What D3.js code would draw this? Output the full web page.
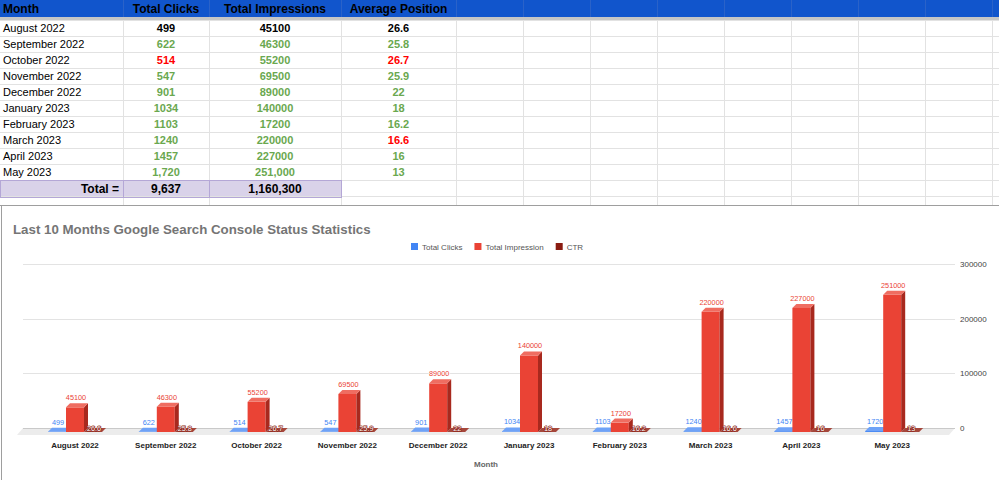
<!DOCTYPE html>
<html>
<head>
<meta charset="utf-8">
<script src="https://cdn.jsdelivr.net/npm/d3@7"></script>
<style>
  html, body { margin: 0; padding: 0; background: #fff; overflow: hidden; }
  text { font-family: Arial, "Liberation Sans", sans-serif; }
</style>
</head>
<body>
<svg id="page" width="999" height="480"></svg>
<script>
// 表格 / 图表数据
const months = ['August 2022', 'September 2022', 'October 2022', 'November 2022', 'December 2022',
  'January 2023', 'February 2023', 'March 2023', 'April 2023', 'May 2023']
const totalClicks = [499, 622, 514, 547, 901, 1034, 1103, 1240, 1457, 1720]
const totalImpressions = [45100, 46300, 55200, 69500, 89000, 140000, 17200, 220000, 227000, 251000]
const avgPosition = [26.6, 25.8, 26.7, 25.9, 22, 18, 16.2, 16.6, 16, 13]
// 条件格式: base = 黑, up = 绿, down = 红
const clickState = ['base', 'up', 'down', 'up', 'up', 'up', 'up', 'up', 'up', 'up']
const impressionState = ['base', 'up', 'up', 'up', 'up', 'up', 'up', 'up', 'up', 'up']
const positionState = ['base', 'up', 'down', 'up', 'up', 'up', 'up', 'down', 'up', 'up']
const commaRows = ['May 2023']
const headers = ['Month', 'Total Clicks', 'Total Impressions', 'Average Position']
const seriesNames = ['Total Clicks', 'Total Impression', 'CTR']
const yTicks = [0, 100000, 200000, 300000]
const chartTitle = 'Last 10 Months Google Search Console Status Statistics'
const xTitle = 'Month'

const svg = d3.select('#page')
const stateColor = { base: '#000000', up: '#6aa84f', down: '#ff0000' }

// ---------------- 表格 ----------------
const colEdges = [0, 123, 209, 341, 456, 523, 590, 657, 724, 791, 858, 925, 992, 1059]
const headH = 17, bandH = 3, rowH = 16, rowTop = headH + bandH
const table = svg.append('g')

// 表头
table.append('rect').attr('x', 0).attr('y', 0).attr('width', 999).attr('height', headH).attr('fill', '#1155cc')
table.append('rect').attr('x', 0).attr('y', headH).attr('width', 999).attr('height', bandH).attr('fill', '#c6c6c6')

// 总计行底色
const totalY = rowTop + rowH * months.length
table.append('rect').attr('x', 0).attr('y', totalY).attr('width', colEdges[3]).attr('height', rowH + 1).attr('fill', '#d9d2e9')

// 网格线
const gridRows = d3.range(months.length + 3).map((i) => rowTop + rowH * i)
table.selectAll('.hline').data(gridRows).enter()
  .append('line')
  .attr('x1', 0).attr('x2', 999)
  .attr('y1', (d) => d + 0.5).attr('y2', (d) => d + 0.5)
  .attr('stroke', '#e2e2e2')
table.selectAll('.vline').data(colEdges.slice(1)).enter()
  .append('line')
  .attr('x1', (d) => d + 0.5).attr('x2', (d) => d + 0.5)
  .attr('y1', rowTop).attr('y2', 205)
  .attr('stroke', '#e2e2e2')
table.selectAll('.hvline').data(colEdges.slice(1)).enter()
  .append('line')
  .attr('x1', (d) => d + 0.5).attr('x2', (d) => d + 0.5)
  .attr('y1', 0).attr('y2', headH)
  .attr('stroke', '#2a62c9')
// 总计行边框
table.append('rect').attr('x', 0.5).attr('y', totalY + 0.5).attr('width', colEdges[3]).attr('height', rowH + 1)
  .attr('fill', 'none').attr('stroke', '#b4a7d6')
table.append('line').attr('x1', colEdges[1] + 0.5).attr('x2', colEdges[1] + 0.5).attr('y1', totalY).attr('y2', totalY + rowH + 1).attr('stroke', '#b4a7d6')
table.append('line').attr('x1', colEdges[2] + 0.5).attr('x2', colEdges[2] + 0.5).attr('y1', totalY).attr('y2', totalY + rowH + 1).attr('stroke', '#b4a7d6')

const colCenter = (c) => (colEdges[c] + colEdges[c + 1]) / 2

// 表头文字
table.selectAll('.head').data(headers).enter()
  .append('text')
  .text((d) => d)
  .attr('x', (d, i) => (i === 0 ? 3 : colCenter(i)))
  .attr('y', 12.5)
  .attr('text-anchor', (d, i) => (i === 0 ? 'start' : 'middle'))
  .attr('font-size', '12px')
  .attr('font-weight', 'bold')
  .attr('fill', '#000')

// 数据行
const fmt = (m, v) => (commaRows.includes(m) ? d3.format(',')(v) : String(v))
const rows = table.selectAll('.row').data(months).enter()
  .append('g')
  .attr('transform', (d, i) => `translate(0, ${rowTop + rowH * i})`)
rows.append('text')
  .text((d) => d)
  .attr('x', 3).attr('y', 12)
  .attr('font-size', '11px').attr('fill', '#000')
rows.append('text')
  .text((d, i) => fmt(d, totalClicks[i]))
  .attr('x', colCenter(1)).attr('y', 12).attr('text-anchor', 'middle')
  .attr('font-size', '11px').attr('font-weight', 'bold')
  .attr('fill', (d, i) => stateColor[clickState[i]])
rows.append('text')
  .text((d, i) => fmt(d, totalImpressions[i]))
  .attr('x', colCenter(2)).attr('y', 12).attr('text-anchor', 'middle')
  .attr('font-size', '11px').attr('font-weight', 'bold')
  .attr('fill', (d, i) => stateColor[impressionState[i]])
rows.append('text')
  .text((d, i) => avgPosition[i])
  .attr('x', colCenter(3)).attr('y', 12).attr('text-anchor', 'middle')
  .attr('font-size', '11px').attr('font-weight', 'bold')
  .attr('fill', (d, i) => stateColor[positionState[i]])

// 总计行
const totals = table.append('g').attr('transform', `translate(0, ${totalY})`)
totals.append('text').text('Total =').attr('x', colEdges[1] - 4).attr('y', 13)
  .attr('text-anchor', 'end').attr('font-size', '12px').attr('font-weight', 'bold')
totals.append('text').text(d3.format(',')(d3.sum(totalClicks))).attr('x', colCenter(1)).attr('y', 13)
  .attr('text-anchor', 'middle').attr('font-size', '12px').attr('font-weight', 'bold')
totals.append('text').text(d3.format(',')(d3.sum(totalImpressions))).attr('x', colCenter(2)).attr('y', 13)
  .attr('text-anchor', 'middle').attr('font-size', '12px').attr('font-weight', 'bold')

// ---------------- 图表 ----------------
const chartTop = 205
const chart = svg.append('g')
chart.append('rect').attr('x', 0).attr('y', chartTop).attr('width', 999).attr('height', 480 - chartTop).attr('fill', '#fff')
chart.append('line').attr('x1', 0).attr('x2', 999).attr('y1', chartTop + 0.5).attr('y2', chartTop + 0.5).attr('stroke', '#9e9e9e')
chart.append('line').attr('x1', 1.5).attr('x2', 1.5).attr('y1', chartTop).attr('y2', 480).attr('stroke', '#9e9e9e')

// 标题
chart.append('text').text(chartTitle)
  .attr('x', 13).attr('y', 233.5)
  .attr('font-size', '13.3px').attr('font-weight', 'bold').attr('fill', '#757575')

const series = [
  { name: seriesNames[0], values: totalClicks, front: '#4285f4', top: '#6fa2f7', side: '#2e62bd', label: 'out' },
  { name: seriesNames[1], values: totalImpressions, front: '#ea4335', top: '#ef6d61', side: '#a8291e', label: 'out' },
  { name: seriesNames[2], values: avgPosition, front: '#8a1c11', top: '#a5473c', side: '#5c120a', label: 'in' }
]

// 图例
let lx = 411
series.forEach((s) => {
  chart.append('rect').attr('x', lx).attr('y', 243).attr('width', 7).attr('height', 7).attr('fill', s.front)
  const t = chart.append('text').text(s.name)
    .attr('x', lx + 11).attr('y', 249.5)
    .attr('font-size', '8px').attr('fill', '#555')
  lx += 11 + t.node().getComputedTextLength() + 12
})

// 比例尺
const x = d3.scaleBand().domain(months).range([29.6, 937.6])
const xSub = d3.scaleBand().domain(seriesNames).range([-27, 27])
const y = d3.scaleLinear().domain([0, 300000]).range([428, 264])
const D = 4 // 立体深度

// 网格线与右侧刻度
chart.selectAll('.grid').data(yTicks.filter((t) => t > 0)).enter()
  .append('line')
  .attr('x1', 23).attr('x2', 955)
  .attr('y1', (d) => Math.round(y(d)) + 0.5).attr('y2', (d) => Math.round(y(d)) + 0.5)
  .attr('stroke', '#e3e3e3')
chart.selectAll('.ytick').data(yTicks).enter()
  .append('text')
  .text((d) => d)
  .attr('x', 960).attr('y', (d) => y(d) + 3)
  .attr('font-size', '8px').attr('fill', '#444')

// 地面
const y0 = y(0)
chart.append('path')
  .attr('d', `M23,${y0} L955,${y0} L949,${y0 + 7} L17,${y0 + 7} Z`)
  .attr('fill', '#ececec')
chart.append('line').attr('x1', 23).attr('x2', 955).attr('y1', y0 + 0.5).attr('y2', y0 + 0.5).attr('stroke', '#c9c9c9')

// 立体柱
const bars = chart.selectAll('.cat').data(months).enter()
  .append('g')
  .attr('transform', (d) => `translate(${x(d) + x.bandwidth() / 2}, 0)`)

series.forEach((s) => {
  const w = xSub.bandwidth()
  const g = bars.append('g')
  const fx = xSub(s.name)
  const ft = (d, i) => y(s.values[i]) + D
  const fb = y0 + D
  // 正面
  g.append('rect')
    .attr('x', fx).attr('y', ft)
    .attr('width', w).attr('height', (d, i) => Math.max(0, fb - ft(d, i)))
    .attr('fill', s.front)
  // 侧面
  g.append('path')
    .attr('d', (d, i) => `M${fx + w},${ft(d, i)} L${fx + w + D},${ft(d, i) - D} L${fx + w + D},${y0} L${fx + w},${fb} Z`)
    .attr('fill', s.side)
  // 顶面
  g.append('path')
    .attr('d', (d, i) => `M${fx},${ft(d, i)} L${fx + w},${ft(d, i)} L${fx + w + D},${ft(d, i) - D} L${fx + D},${ft(d, i) - D} Z`)
    .attr('fill', s.top)
  // 数值标签
  g.append('text')
    .text((d, i) => s.values[i])
    .attr('x', fx + w / 2 + 1)
    .attr('y', (d, i) => (s.label === 'out' ? y(s.values[i]) - 3 : y(s.values[i]) + 3))
    .attr('text-anchor', 'middle')
    .attr('font-size', '7.3px')
    .attr('fill', s.label === 'out' ? s.front : '#fff')
    .attr('stroke', s.label === 'out' ? '#fff' : s.front)
    .attr('stroke-width', s.label === 'out' ? 1.5 : 1.2)
    .style('paint-order', 'stroke')
})

// 类别标签
chart.selectAll('.xlabel').data(months).enter()
  .append('text')
  .text((d) => d)
  .attr('x', (d) => x(d) + x.bandwidth() / 2)
  .attr('y', 448)
  .attr('text-anchor', 'middle')
  .attr('font-size', '8px').attr('font-weight', 'bold').attr('fill', '#222')

// x 轴标题
chart.append('text').text(xTitle)
  .attr('x', 486).attr('y', 467)
  .attr('text-anchor', 'middle')
  .attr('font-size', '8px').attr('font-weight', 'bold').attr('fill', '#666')
</script>
</body>
</html>
